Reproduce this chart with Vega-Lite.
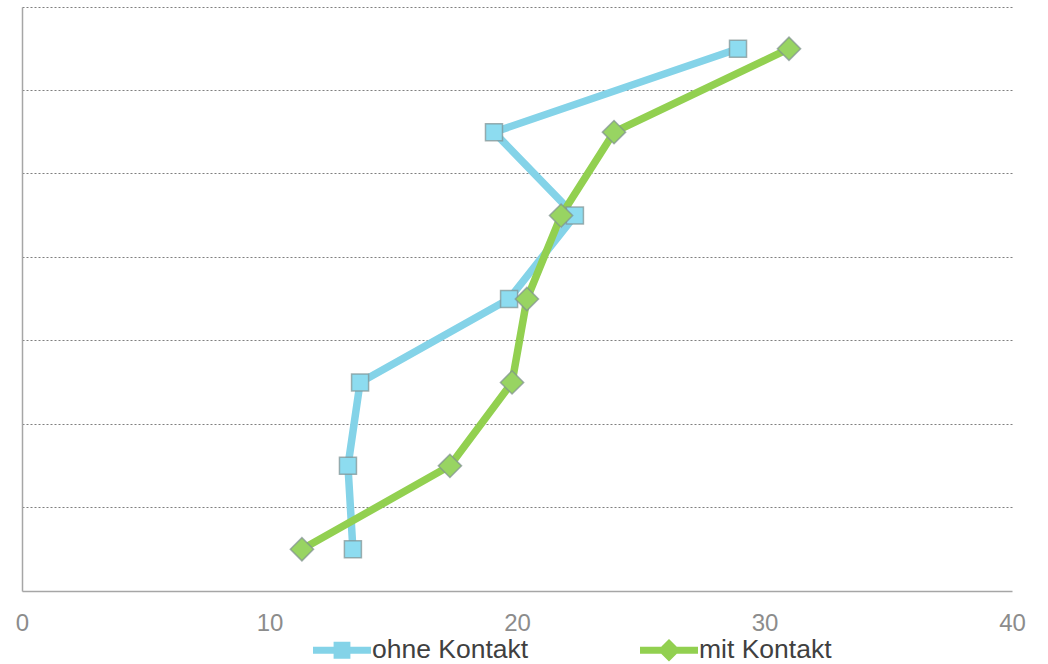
{
  "$schema": "https://vega.github.io/schema/vega-lite/v6.json",
  "width": 990,
  "height": 584,
  "autosize": {"type": "none"},
  "padding": {"left": 22, "top": 7, "right": 36, "bottom": 73},
  "background": "white",
  "config": {"view": {"stroke": null}, "font": "Liberation Sans"},
  "data": {
    "values": [
      {"k": 1, "s": "ohne Kontakt", "v": 28.93},
      {"k": 2, "s": "ohne Kontakt", "v": 19.07},
      {"k": 3, "s": "ohne Kontakt", "v": 22.34},
      {"k": 4, "s": "ohne Kontakt", "v": 19.68},
      {"k": 5, "s": "ohne Kontakt", "v": 13.66},
      {"k": 6, "s": "ohne Kontakt", "v": 13.17},
      {"k": 7, "s": "ohne Kontakt", "v": 13.37},
      {"k": 1, "s": "mit Kontakt", "v": 30.99},
      {"k": 2, "s": "mit Kontakt", "v": 23.92},
      {"k": 3, "s": "mit Kontakt", "v": 21.78},
      {"k": 4, "s": "mit Kontakt", "v": 20.40},
      {"k": 5, "s": "mit Kontakt", "v": 19.80},
      {"k": 6, "s": "mit Kontakt", "v": 17.29},
      {"k": 7, "s": "mit Kontakt", "v": 11.31}
    ]
  },
  "encoding": {
    "x": {
      "field": "v",
      "type": "quantitative",
      "scale": {"domain": [0, 40], "nice": false, "zero": true},
      "axis": {
        "values": [0, 10, 20, 30, 40],
        "grid": false,
        "ticks": false,
        "title": null,
        "domainColor": "#a6a6a6",
        "domainWidth": 1.5,
        "labelFontSize": 24,
        "labelColor": "#8c8c8c",
        "labelPadding": 20,
        "labelFlush": false,
        "labelFont": "Liberation Sans"
      }
    },
    "y": {
      "field": "k",
      "type": "ordinal",
      "bandPosition": 0.5,
      "scale": {"type": "band", "paddingInner": 0, "paddingOuter": 0},
      "axis": {
        "labels": false,
        "ticks": false,
        "title": null,
        "domainColor": "#a6a6a6",
        "domainWidth": 1.5,
        "grid": true,
        "gridColor": "#7f7f7f",
        "gridDash": [2, 2],
        "gridWidth": 1,
        "bandPosition": 0
      }
    },
    "color": {
      "field": "s",
      "type": "nominal",
      "scale": {"domain": ["ohne Kontakt", "mit Kontakt"], "range": ["#84D3E8", "#92D050"]},
      "legend": {
        "orient": "none",
        "legendX": 291,
        "legendY": 614,
        "direction": "horizontal",
        "title": null,
        "symbolSize": 3364,
        "labelFontSize": 26.5,
        "labelColor": "#404040",
        "labelFont": "Liberation Sans",
        "labelOffset": 1,
        "columnPadding": 111,
        "padding": 0,
        "symbolStrokeWidth": 0,
        "encode": {
          "symbols": {
            "update": {
              "shape": {"signal": "datum.value === 'ohne Kontakt' ? 'M-1,-0.12H1V0.12H-1Z M-0.29,-0.29H0.29V0.29H-0.29Z' : 'M-1,-0.12H1V0.12H-1Z M0,-0.39L0.39,0L0,0.39L-0.39,0Z'"},
              "size": {"value": 3364},
              "fill": {"signal": "datum.value === 'ohne Kontakt' ? '#84D3E8' : '#92D050'"},
              "stroke": {"value": "transparent"},
              "opacity": {"value": 1},
              "fillOpacity": {"value": 1}
            }
          }
        }
      }
    }
  },
  "layer": [
    {
      "mark": {"type": "line", "strokeWidth": 7.5, "strokeJoin": "round", "strokeCap": "round"},
      "encoding": {"order": {"field": "k", "type": "ordinal"}}
    },
    {
      "transform": [{"filter": "datum.s === 'ohne Kontakt'"}],
      "mark": {"type": "point", "shape": "square", "size": 290, "filled": true, "opacity": 1, "stroke": "#7f9090", "strokeWidth": 1.5, "strokeOpacity": 0.7},
      "encoding": {"color": {"value": "#8DDCF0"}}
    },
    {
      "transform": [{"filter": "datum.s === 'mit Kontakt'"}],
      "mark": {"type": "point", "shape": "diamond", "size": 540, "filled": true, "opacity": 1, "stroke": "#7f9090", "strokeWidth": 1.5, "strokeOpacity": 0.7},
      "encoding": {"color": {"value": "#98D462"}}
    }
  ]
}
